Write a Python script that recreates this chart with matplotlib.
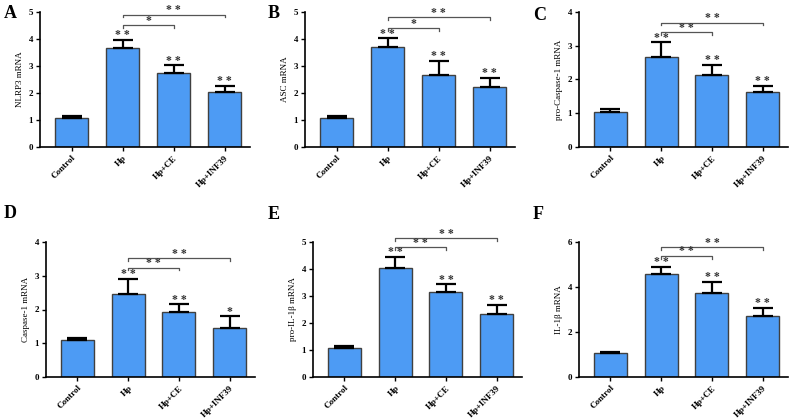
import numpy as np
import matplotlib.pyplot as plt

plt.rcParams['font.family'] = ['Liberation Serif', 'DejaVu Serif']
plt.rcParams['font.weight'] = 'bold'

groups = ['Control', 'Hp', 'Hp+CE', 'Hp+INF39']

# mean values and upper error bar lengths per panel
nlrp3 = [1.08, 3.65, 2.73, 2.03]
nlrp3_err = [0.07, 0.32, 0.29, 0.24]
asc = [1.06, 3.70, 2.65, 2.22]
asc_err = [0.07, 0.32, 0.55, 0.33]
procasp = [1.05, 2.67, 2.13, 1.63]
procasp_err = [0.08, 0.43, 0.30, 0.19]
casp = [1.10, 2.46, 1.93, 1.46]
casp_err = [0.06, 0.44, 0.22, 0.34]
proil = [1.07, 4.02, 3.14, 2.35]
proil_err = [0.06, 0.44, 0.29, 0.32]
il1b = [1.08, 4.60, 3.75, 2.72]
il1b_err = [0.04, 0.30, 0.47, 0.36]

# stars over bars (vs control) and bracket labels (Hp vs CE, Hp vs INF39)
bar_stars = [['', '**', '**', '**'], ['', '**', '**', '**'], ['', '**', '**', '**'],
             ['', '**', '**', '*'], ['', '**', '**', '**'], ['', '**', '**', '**']]
br_labels = [['*', '**'], ['*', '**'], ['**', '**'], ['**', '**'], ['**', '**'], ['**', '**']]
br_heights = [[4.5, 4.9], [4.4, 4.8], [3.4, 3.68], [3.24, 3.52], [4.8, 5.14], [5.38, 5.76]]

ylabels = ['NLRP3 mRNA', 'ASC mRNA', 'pro-Caspase-1 mRNA',
           'Caspase-1 mRNA', 'pro-IL-1\u03b2 mRNA', 'IL-1\u03b2 mRNA']
ymax = [5, 5, 4, 4, 5, 6]
ystep = [1, 1, 1, 1, 1, 2]
letters = ['A', 'B', 'C', 'D', 'E', 'F']
values = [nlrp3, asc, procasp, casp, proil, il1b]
errors = [nlrp3_err, asc_err, procasp_err, casp_err, proil_err, il1b_err]

# axes boxes in pixels: left, right, top, bottom
W, H = 793, 420
boxes = [(40, 250, 12, 147), (305, 515, 12, 147), (579, 788, 12, 147),
         (46, 255, 242, 377), (313, 522, 242, 377), (579, 788, 242, 377)]
letter_pos = [(4, 13), (268, 13), (533, 15), (4, 213), (268, 215), (533, 215)]

fig = plt.figure(figsize=(W / 100, H / 100), dpi=100)
fig.patch.set_facecolor('white')

x = np.arange(len(groups))
for i in range(6):
    l, r, t, b = boxes[i]
    ax = fig.add_axes([l / W, 1 - b / H, (r - l) / W, (b - t) / H])
    v = np.array(values[i])
    e = np.array(errors[i])
    ax.bar(x, v, width=0.65, color='#4d9bf4', edgecolor='#404040', linewidth=1.0, zorder=2)
    ax.errorbar(x, v, yerr=[np.zeros(4), e], fmt='none', ecolor='black',
                elinewidth=1.6, capsize=7, capthick=1.6, zorder=3)
    ax.set_xlim(-0.62, 3.5)
    ax.set_ylim(0, ymax[i])
    ax.set_yticks(np.arange(0, ymax[i] + 0.01, ystep[i]))
    ax.set_xticks(x)
    ax.set_xticklabels(groups, rotation=45, ha='right', rotation_mode='anchor', fontsize=6.5)
    ax.tick_params(axis='y', labelsize=6.5, length=3, width=1, pad=2)
    ax.tick_params(axis='x', length=3, width=1, pad=2)
    ax.spines['top'].set_visible(False)
    ax.spines['right'].set_visible(False)
    ax.spines['left'].set_linewidth(1.2)
    ax.spines['bottom'].set_linewidth(1.2)
    ax.set_ylabel(ylabels[i], fontsize=6.5, labelpad=3)

    for j in range(4):
        if bar_stars[i][j]:
            ax.text(x[j], v[j] + e[j] - ymax[i] * 0.01, bar_stars[i][j].replace('*', '* ').strip(),
                    ha='center', va='bottom', fontsize=8.5, color='#333333')

    # comparison brackets from Hp
    dh = ymax[i] * 0.02
    for k, target in enumerate([2, 3]):
        h = br_heights[i][k]
        ax.plot([1, 1, target, target], [h - dh, h, h, h - dh], color='#555555',
                lw=0.9, clip_on=False)
        ax.text((1 + target) / 2, h - ymax[i] * 0.01, br_labels[i][k].replace('*', '* ').strip(),
                ha='center', va='bottom', fontsize=8.5, color='#333333', clip_on=False)

    lx, ly = letter_pos[i]
    fig.text(lx / W, 1 - ly / H, letters[i], fontsize=13, fontweight='bold',
             ha='left', va='center')

fig.savefig('out.png', dpi=100)
